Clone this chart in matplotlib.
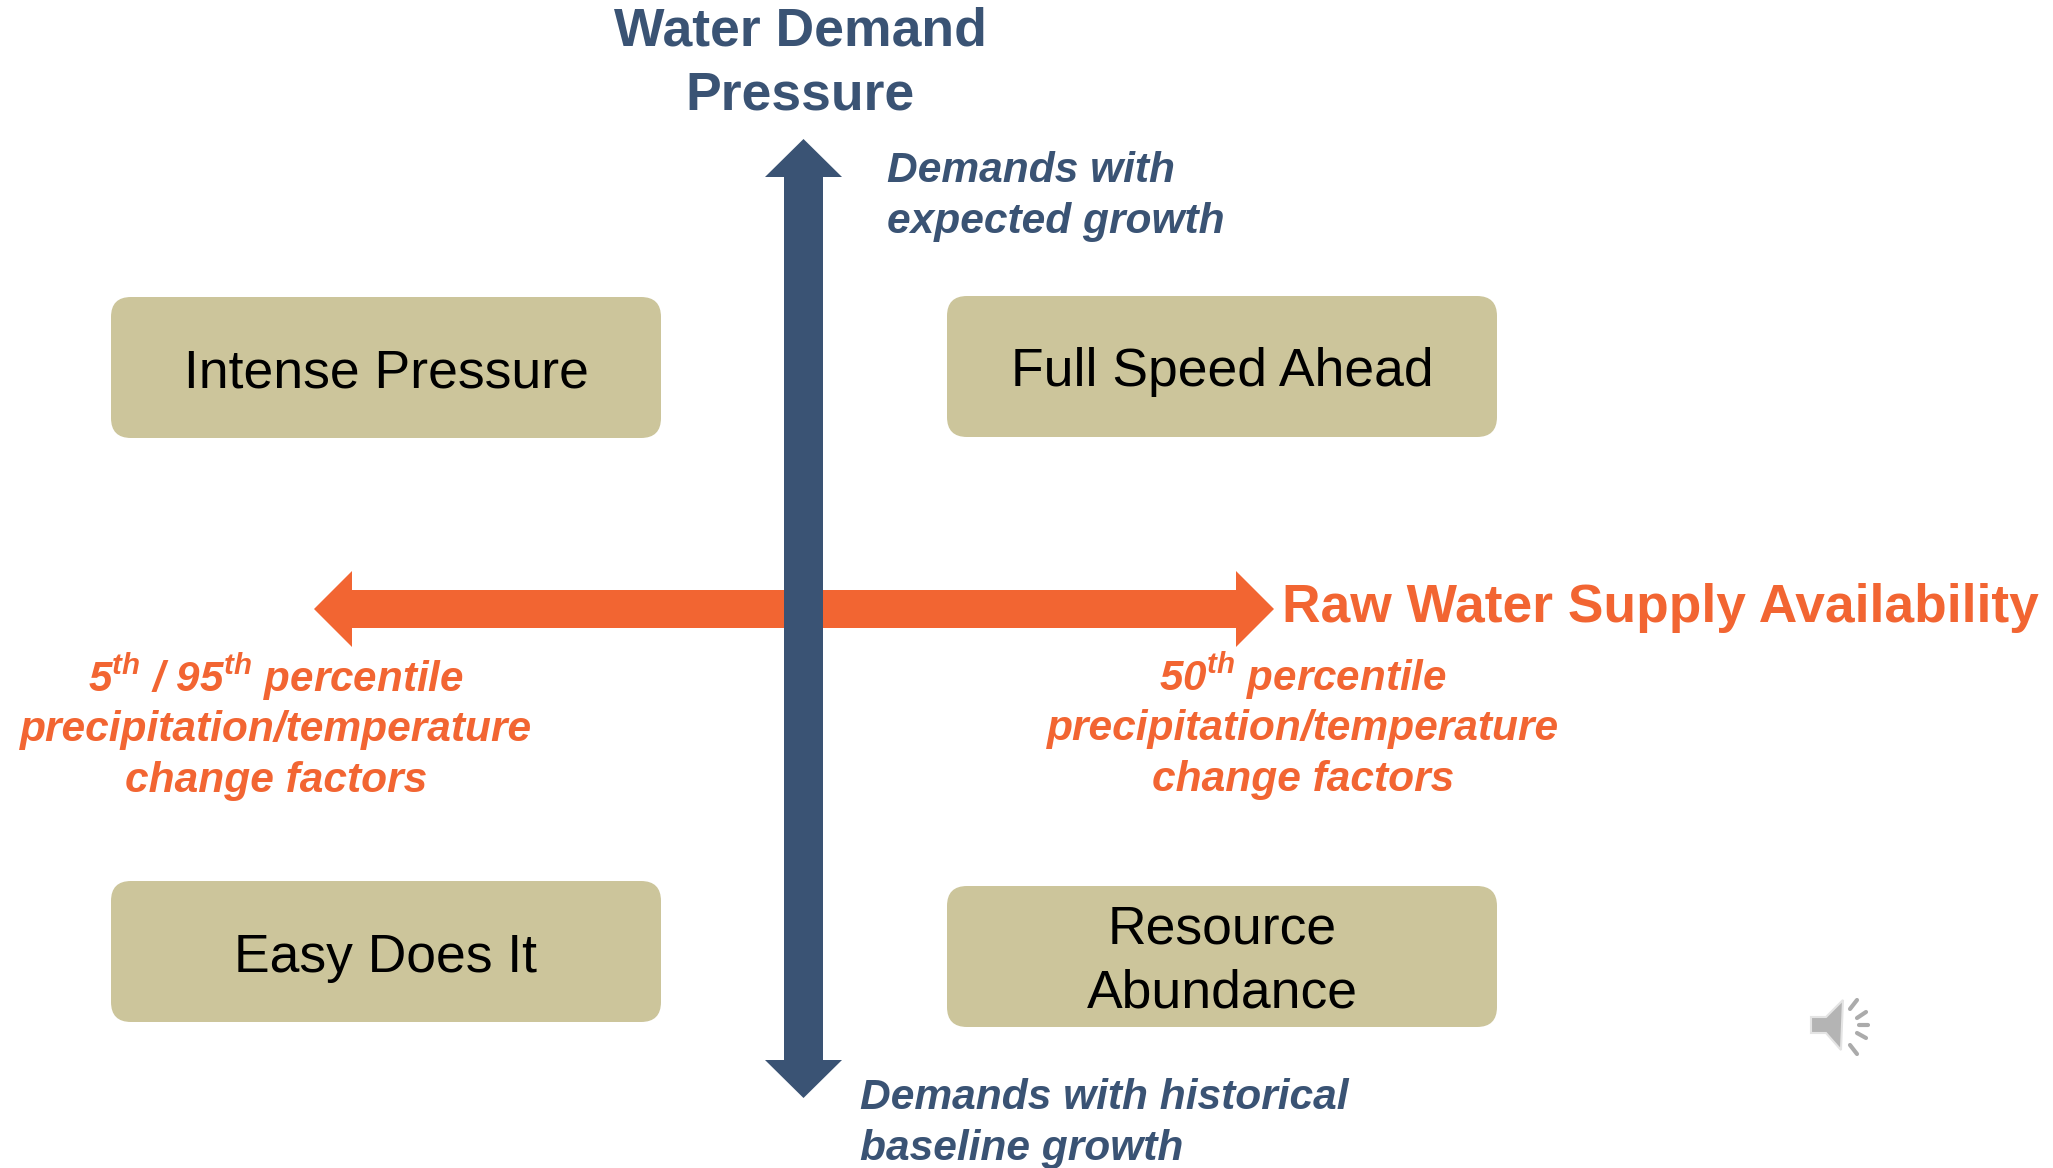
#!/usr/bin/env python3
"""Water demand / supply scenario quadrant diagram."""

import matplotlib
matplotlib.use("Agg")
import matplotlib.pyplot as plt
from matplotlib.patches import FancyBboxPatch, Polygon

plt.rcParams['font.family'] = ['Liberation Sans', 'DejaVu Sans']
plt.rcParams['mathtext.fontset'] = 'custom'
plt.rcParams['mathtext.it'] = 'Liberation Sans:italic:bold'
plt.rcParams['mathtext.rm'] = 'Liberation Sans:italic:bold'

NAVY = '#3A5374'
ORANGE = '#F26532'
TAN = '#CCC59B'

# quadrant boxes: label lines and their baselines
BOX_LEFT = [111, 947, 111, 947]
BOX_TOP = [297, 296, 881, 886]
BOX_W = 550
BOX_H = 141
BOX_LINES = [["Intense Pressure"], ["Full Speed Ahead"], ["Easy Does It"], ["Resource", "Abundance"]]
BOX_BASE = [[387], [386], [972], [944, 1008]]

# arrows, as (centre, start, end) on their own axis
V_ARROW = (803.5, 139, 1098)
H_ARROW = (609, 314, 1274)

SPEAKER_X = [1811, 1826, 1843, 1841, 1826, 1811]
SPEAKER_Y = [1017, 1017, 1000, 1050, 1033, 1033]
TICK_X0 = [1850, 1857, 1859, 1857, 1850]
TICK_X1 = [1857, 1866, 1868, 1866, 1857]
TICK_Y0 = [1009, 1018, 1025, 1033, 1045]
TICK_Y1 = [1000, 1012, 1025, 1038, 1054]

fig = plt.figure(figsize=(20.53, 11.68), dpi=100, facecolor='white')
ax = fig.add_axes([0, 0, 1, 1])
ax.set_xlim(0, 2053)
ax.set_ylim(1168, 0)
ax.axis('off')


def arrow(c, a, b, half=19.5, head=38.5, length=38, color=NAVY, vertical=True, z=2):
    pts = [(c - half, a + length), (c - head, a + length), (c, a), (c + head, a + length), (c + half, a + length),
           (c + half, b - length), (c + head, b - length), (c, b), (c - head, b - length), (c - half, b - length)]
    if not vertical:
        pts = [(y, x) for x, y in pts]
    ax.add_patch(Polygon(pts, closed=True, fc=color, ec='none', zorder=z))


arrow(*H_ARROW, half=19, head=38, length=38, color=ORANGE, vertical=False, z=2)
arrow(*V_ARROW, half=19.5, head=38.5, length=38, color=NAVY, z=3)

for x, y, lines, bases in zip(BOX_LEFT, BOX_TOP, BOX_LINES, BOX_BASE):
    ax.add_patch(FancyBboxPatch((x + 20, y + 20), BOX_W - 40, BOX_H - 40,
                                boxstyle="round,pad=20,rounding_size=20", fc=TAN, ec='none', zorder=2))
    for s, b in zip(lines, bases):
        ax.text(x + BOX_W / 2, b, s, fontsize=38.5, color='black', ha='center', va='baseline', zorder=4)

# headings
for s, b in zip(["Water Demand", "Pressure"], [45, 110]):
    ax.text(800, b, s, fontsize=38.5, fontweight='bold', color=NAVY, ha='center', va='baseline')
ax.text(1282, 622, "Raw Water Supply Availability", fontsize=38.4, fontweight='bold', color=ORANGE,
        ha='left', va='baseline')

# italic notes
ital = dict(fontsize=30.6, fontweight='bold', fontstyle='italic', va='baseline')
sup = dict(ital, fontsize=30.3)
for s, b in zip(["Demands with", "expected growth"], [182, 233]):
    ax.text(887, b, s, color=NAVY, ha='left', **ital)
for s, b in zip(["Demands with historical", "baseline growth"], [1109, 1160]):
    ax.text(860, b, s, color=NAVY, ha='left', **ital)

ax.text(276, 692, r"5$^{th}$ / 95$^{th}$ percentile", color=ORANGE, ha='center', **sup)
for s, b in zip(["precipitation/temperature", "change factors"], [741, 792]):
    ax.text(276, b, s, color=ORANGE, ha='center', **ital)
ax.text(1303, 691, r"50$^{th}$ percentile", color=ORANGE, ha='center', **sup)
for s, b in zip(["precipitation/temperature", "change factors"], [740, 791]):
    ax.text(1303, b, s, color=ORANGE, ha='center', **ital)

# speaker icon
ax.add_patch(Polygon(list(zip(SPEAKER_X, SPEAKER_Y)), closed=True, fc='#B4B4B4', ec='#E4E4E4', lw=1.5, zorder=2))
for x0, x1, y0, y1 in zip(TICK_X0, TICK_X1, TICK_Y0, TICK_Y1):
    ax.plot([x0, x1], [y0, y1], color='#ABABAB', lw=3, solid_capstyle='round', zorder=2)

fig.savefig("out.png", dpi=100, facecolor='white')
plt.close()
